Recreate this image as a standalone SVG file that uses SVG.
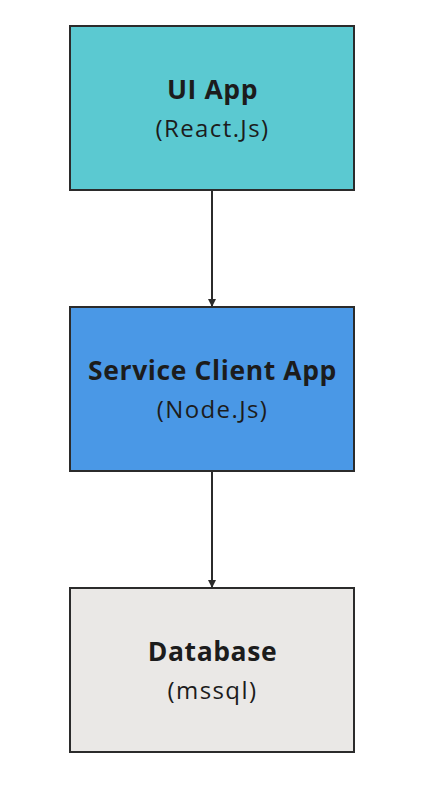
<svg xmlns="http://www.w3.org/2000/svg" width="428" height="798" viewBox="0 0 428 798">
<defs>
<style>
.box{stroke:#2b2b2b;stroke-width:2}
.t{font-family:"Open Sans","Noto Sans",sans-serif;font-weight:700;font-size:26.5px;letter-spacing:0.6px;fill:#1c1c1c;text-anchor:middle}
.s{font-family:"Open Sans","Noto Sans",sans-serif;font-weight:400;font-size:24px;letter-spacing:1.4px;fill:#1c1c1c;text-anchor:middle}
.c{stroke:#2b2b2b;stroke-width:2;fill:none}
</style>
<marker id="ah" markerWidth="8" markerHeight="8" refX="7" refY="4" orient="auto" markerUnits="userSpaceOnUse">
<path d="M0,0 L8,4 L0,8 Z" fill="#2b2b2b"/>
</marker>
</defs>
<rect width="428" height="798" fill="#ffffff"/>
<g id="connectors">
<line class="c" x1="212" y1="191" x2="212" y2="306" marker-end="url(#ah)"/>
<line class="c" x1="212" y1="472" x2="212" y2="587" marker-end="url(#ah)"/>
</g>
<g id="ui-app">
<rect class="box" x="70" y="26" width="284" height="164" fill="#5bc9d1"/>
<text class="t" x="212.5" y="99">UI App</text>
<text class="s" x="212.5" y="137">(React.Js)</text>
</g>
<g id="service-client-app">
<rect class="box" x="70" y="307" width="284" height="164" fill="#4a98e6"/>
<text class="t" x="212.5" y="380">Service Client App</text>
<text class="s" x="212.5" y="418">(Node.Js)</text>
</g>
<g id="database">
<rect class="box" x="70" y="588" width="284" height="164" fill="#eae8e6"/>
<text class="t" x="212.5" y="661">Database</text>
<text class="s" x="212.5" y="699">(mssql)</text>
</g>
</svg>
